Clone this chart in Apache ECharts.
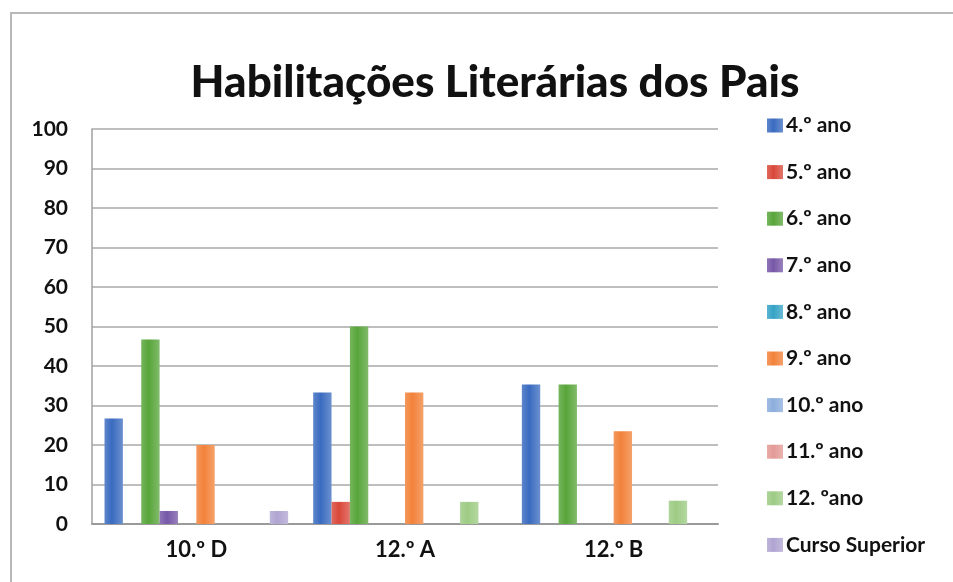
<!DOCTYPE html>
<html><head><meta charset="utf-8">
<script src="https://cdn.jsdelivr.net/npm/echarts@6/dist/echarts.min.js"></script>
<style>html,body{margin:0;padding:0;background:#fff}#c{width:953px;height:582px}</style>
</head><body><div id="c"></div>
<script>
var categories = ['10.º D', '12.º A', '12.º B'];
var seriesNames = ['4.º ano','5.º ano','6.º ano','7.º ano','8.º ano','9.º ano','10.º ano','11.º ano','12. ºano','Curso Superior'];
var ano4   = [26.7, 33.3, 35.3];
var ano5   = [0, 5.6, 0];
var ano6   = [46.7, 50, 35.3];
var ano7   = [3.3, 0, 0];
var ano8   = [0, 0, 0];
var ano9   = [20, 33.3, 23.5];
var ano10  = [0, 0, 0];
var ano11  = [0, 0, 0];
var ano12  = [0, 5.6, 5.9];
var superior = [3.3, 0, 0];
var yTicks = [0,10,20,30,40,50,60,70,80,90,100];

var values = [ano4, ano5, ano6, ano7, ano8, ano9, ano10, ano11, ano12, superior];
var colors = ['#3A6BC0','#D9473A','#58A53A','#7757A8','#36A3C6','#F2823A','#8DAEDD','#E39A96','#9DCB84','#B0A5D2'];
function grad(c){
  return new echarts.graphic.LinearGradient(0,0,1,0,[
    {offset:0,color:echarts.color.lift(c,0.18)},
    {offset:0.4,color:c},
    {offset:1,color:echarts.color.lift(c,0.25)}]);
}
var chart = echarts.init(document.getElementById('c'));
var FONT = 'Lato';
chart.setOption({
  animation:false,
  backgroundColor:'#fff',
  title:{text:'Habilitações Literárias dos Pais',left:490,textAlign:'center',top:56,
    textStyle:{fontFamily:FONT,fontWeight:900,fontSize:44,color:'#111'}},
  graphic:[{type:'rect',shape:{x:11,y:13,width:960,height:600},style:{fill:'none',stroke:'#b8b8b8',lineWidth:2},silent:true}],
  legend:{orient:'vertical',left:762,top:110,itemWidth:16,itemHeight:14,itemGap:25.6,
    data:seriesNames,icon:'rect',
    textStyle:{fontFamily:FONT,fontWeight:'bold',fontSize:21,lineHeight:20,color:'#111',padding:[0,0,0,-2]}},
  grid:{left:92,right:235,top:129,bottom:58,containLabel:false},
  xAxis:{type:'category',data:categories,
    axisLine:{lineStyle:{color:'#9a9a9a',width:2}},axisTick:{show:false},
    axisLabel:{fontFamily:FONT,fontWeight:'bold',fontSize:22,color:'#111',margin:15}},
  yAxis:{type:'value',min:0,max:100,interval:10,
    axisLine:{show:true,lineStyle:{color:'#a0a0a0',width:1.5}},axisTick:{show:false},
    splitLine:{lineStyle:{color:'#a8a8a8',width:1.5}},
    axisLabel:{fontFamily:FONT,fontWeight:'bold',fontSize:21,color:'#111',margin:24,
      formatter:function(v){return yTicks.indexOf(v)>=0?String(v):'';}}},
  series: seriesNames.map(function(n,i){
    return {name:n,type:'bar',data:values[i],barGap:'0%',barCategoryGap:'12%',
      itemStyle:{color:grad(colors[i])},
      emphasis:{disabled:true}};
  }),
  color:colors
});
</script></body></html>
